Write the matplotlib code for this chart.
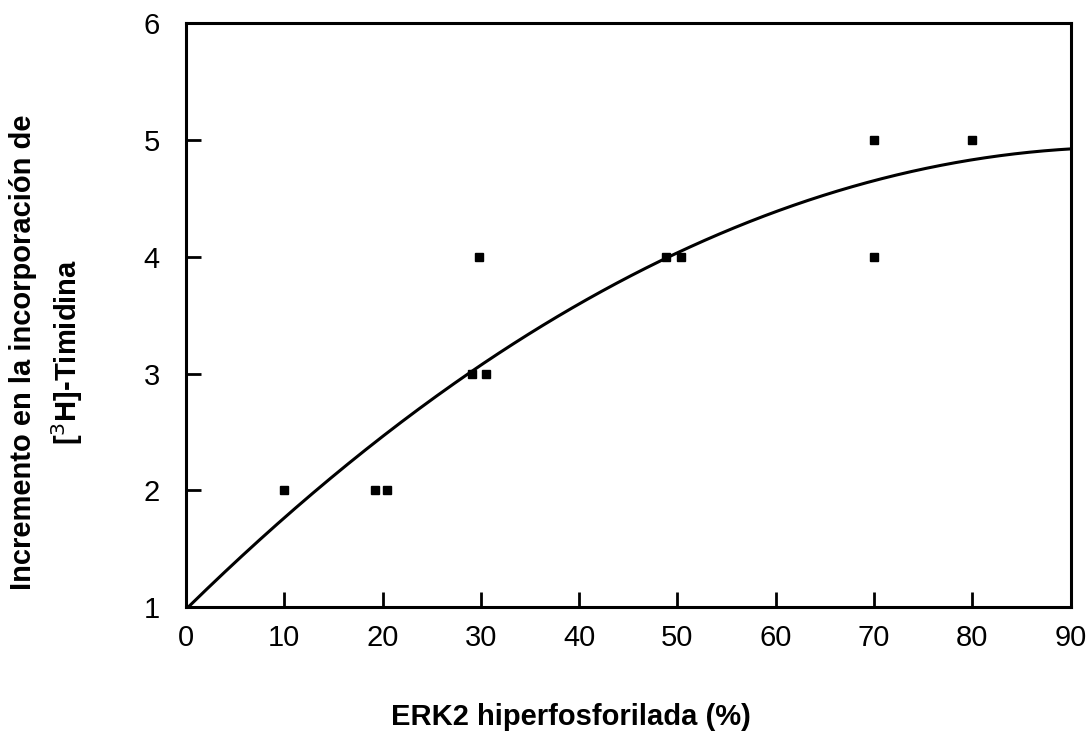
import numpy as np
import matplotlib
matplotlib.use("Agg")
import matplotlib.pyplot as plt

plt.rcParams['font.family'] = ['Liberation Sans', 'DejaVu Sans']

# Data points (ERK2 hiperfosforilada %, incremento)
x_pts = [10, 19.2, 20.4, 29.1, 30.5, 29.8, 48.8, 50.4, 70, 70, 80]
y_pts = [2, 2, 2, 3, 3, 4, 4, 4, 5, 4, 5]

# Fitted curve readings
curve_x = [0.3, 10, 20, 30, 40, 50, 60, 70, 80, 90]
curve_y = [1.0, 1.78, 2.46, 3.07, 3.59, 4.03, 4.39, 4.65, 4.83, 4.92]

x_ticks = [0, 10, 20, 30, 40, 50, 60, 70, 80, 90]
y_ticks = [1, 2, 3, 4, 5, 6]

fig = plt.figure(figsize=(10.88, 7.37), dpi=100)
ax = fig.add_axes([0.171, 0.176, 0.813, 0.793])

coef = np.polyfit(curve_x, curve_y, 2)
xs = np.linspace(curve_x[0], curve_x[-1], 300)
ax.plot(xs, np.polyval(coef, xs), color='black', lw=2.2)
ax.plot(x_pts, y_pts, linestyle='none', marker='s', markersize=5.5, color='black')

ax.set_xlim(0, 90)
ax.set_ylim(1, 6)
ax.set_xticks(x_ticks)
ax.set_yticks(y_ticks)
ax.tick_params(axis='both', direction='in', length=11, width=2, labelsize=21)
ax.tick_params(axis='x', pad=12)
ax.tick_params(axis='y', pad=19)
for s in ax.spines.values():
    s.set_linewidth(2.2)

ax.set_xlabel('ERK2 hiperfosforilada (%)', fontsize=21, fontweight='bold')
ax.xaxis.set_label_coords(0.435, -0.163)
ax.set_ylabel('Incremento en la incorporación de\n[$^{3}$H]-Timidina', fontsize=21,
              fontweight='bold', linespacing=1.45)
ax.yaxis.set_label_coords(-0.114, 0.437)

fig.savefig('out.png', dpi=100)
